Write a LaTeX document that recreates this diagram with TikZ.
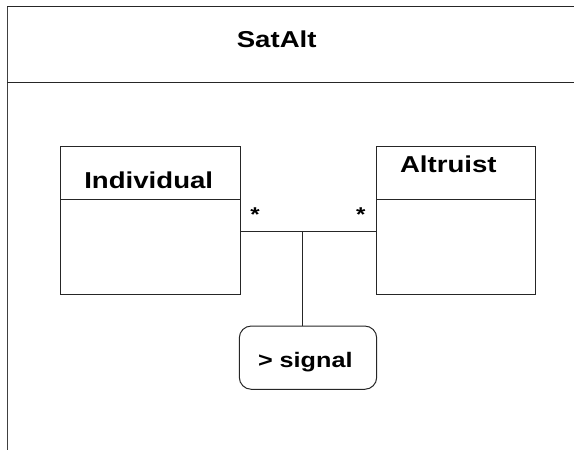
\documentclass[tikz,border=0pt]{standalone}
\usepackage{fontspec}
\setmainfont{Liberation Sans}[FakeStretch=1.2]
\begin{document}
\begin{tikzpicture}[x=1pt,y=1pt,
  line/.style={draw=black!85, line width=1pt},
  classbox/.style={line, rectangle, minimum width=179.3pt, minimum height=147.3pt, inner sep=0pt},
  title/.style={font=\fontsize{23}{25}\selectfont\bfseries, anchor=base, inner sep=0pt},
  mult/.style={font=\fontsize{20}{22}\selectfont\bfseries, anchor=base, inner sep=0pt},
  actbox/.style={line, rectangle, rounded corners=12pt, minimum width=137.4pt, minimum height=63.3pt, inner sep=0pt}]
\useasboundingbox (0,0) rectangle (574,-450);
% frame
\draw[draw=black!75, line width=1.6pt] (7.3,-450) -- (7.3,-6);
\draw[line] (7.3,-6) -- (574,-6);
\draw[line] (7.3,-82) -- (574,-82);
\node[title] (t) at (276.7,-47.9) {SatAlt};
% classes
\node[classbox] (ind) at (150.35,-220.35) {};
\node[classbox, minimum width=158.3pt] (alt) at (455.85,-220.35) {};
\draw[line] (ind.west |- 0,-199.3) -- (ind.east |- 0,-199.3);
\draw[line] (alt.west |- 0,-199.3) -- (alt.east |- 0,-199.3);
\node[title] (indt) at (148.7,-188.9) {Individual};
\node[title] (altt) at (448.3,-172.9) {Altruist};
% association
\coordinate (j) at (302.7,-231);
\node[actbox] (sig) at (308,-357.65) {};
\node[font=\fontsize{21}{23}\selectfont\bfseries, anchor=base, inner sep=0pt] (sigt) at (305.3,-367.3) {> signal};
\draw[line] (j -| ind.east) -- (j -| alt.west);
\draw[line] (j) -- (j |- sig.north);
\node[mult] (m1) at (255,-221) {*};
\node[mult] (m2) at (360.7,-221) {*};
\end{tikzpicture}
\end{document}
